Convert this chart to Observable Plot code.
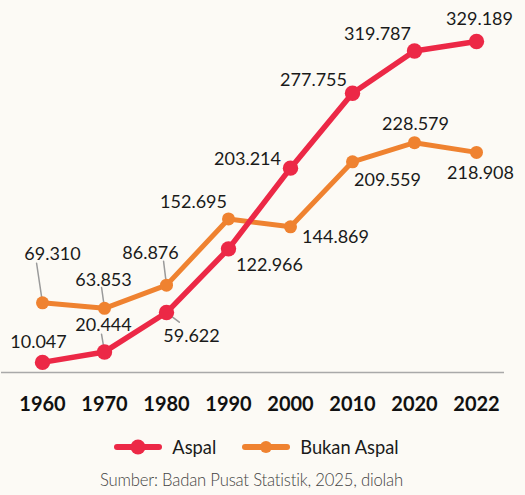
<!DOCTYPE html>
<html>
<head>
<meta charset="utf-8">
<script src="https://cdn.jsdelivr.net/npm/d3@7"></script>
<script src="https://cdn.jsdelivr.net/npm/@observablehq/plot@0.6"></script>
<style>
  html, body { margin: 0; padding: 0; background: #fcfaf5; }
  body { width: 525px; height: 495px; font-family: Lato, "Noto Sans", sans-serif; overflow: hidden; }
  #legend { display: flex; justify-content: center; align-items: center; height: 30px; margin-top: 7px; font-size: 18.3px; color: #1a1a1a; padding-left: 14px; }
  #legend .item { display: flex; align-items: center; margin: 0 26px 0 0; }
  #legend svg { margin-right: 10px; }
  #caption { text-align: center; font-size: 16.7px; font-weight: 300; color: #444; margin-top: 8px; letter-spacing: -0.2px; padding-right: 22px; }
</style>
</head>
<body>
<div id="chart"></div>
<div id="legend"></div>
<div id="caption"></div>
<script>
const years = ["1960", "1970", "1980", "1990", "2000", "2010", "2020", "2022"];
const aspal = [10047, 20444, 59622, 122966, 203214, 277755, 319787, 329189];
const bukanAspal = [69310, 63853, 86876, 152695, 144869, 209559, 228579, 218908];
const seriesNames = ["Aspal", "Bukan Aspal"];
const seriesColors = ["#ec2846", "#ef8230"];
const captionText = "Sumber: Badan Pusat Statistik, 2025, diolah";

// label offsets (pixels) relative to each point
const aspalLabelOffsets = [[-4, -20], [-1, -27], [25, 24], [41, 16], [-43, -9], [-39, -13], [-37, -17], [3, -22]];
const bukanLabelOffsets = [[10, -49], [-1, -28], [-16, -32], [-35, -17], [45, 10], [35, 18], [1, -18], [4, 21]];
// leader lines: [series index, year index, angle deg, length px]
const leaders = [[0, 1, -9.5, 18], [0, 2, 127, 16], [1, 0, -8.5, 40], [1, 1, -8, 21], [1, 2, -7, 24]];

const fmt = d3.formatLocale({decimal: ",", thousands: ".", grouping: [3]}).format(",d");

const rows = [];
years.forEach((y, i) => {
  rows.push({year: y, value: aspal[i], series: seriesNames[0]});
  rows.push({year: y, value: bukanAspal[i], series: seriesNames[1]});
});
const aspalRows = rows.filter(d => d.series === seriesNames[0]);
const bukanRows = rows.filter(d => d.series === seriesNames[1]);
const leaderRows = leaders.map(([s, i, a, l]) => ({year: years[i], value: s === 0 ? aspal[i] : bukanAspal[i], angle: a, len: l}));

const labelMarks = [];
aspalRows.forEach((d, i) => {
  labelMarks.push(Plot.text([d], {x: "year", y: "value", text: d => fmt(d.value), dx: aspalLabelOffsets[i][0], dy: aspalLabelOffsets[i][1], fontSize: 18, fill: "#1a1a1a"}));
});
bukanRows.forEach((d, i) => {
  labelMarks.push(Plot.text([d], {x: "year", y: "value", text: d => fmt(d.value), dx: bukanLabelOffsets[i][0], dy: bukanLabelOffsets[i][1], fontSize: 18, fill: "#1a1a1a"}));
});

const chart = Plot.plot({
  width: 525,
  height: 425,
  marginTop: 41,
  marginBottom: 53,
  marginLeft: 41,
  marginRight: 48,
  style: {fontFamily: "Lato, 'Noto Sans', sans-serif", background: "transparent", overflow: "visible"},
  x: {type: "point", domain: years, padding: 0},
  y: {domain: [0, 329189], axis: null},
  length: {type: "identity"},
  marks: [
    Plot.ruleY([0], {stroke: "#a9a9a9", strokeWidth: 1.5, insetLeft: -40, insetRight: -27}),
    Plot.vector(leaderRows, {x: "year", y: "value", rotate: "angle", length: "len", anchor: "start", stroke: "#9a9a9a", strokeWidth: 1.5,
      shape: {draw(context, l) { context.moveTo(0, 0); context.lineTo(0, -l); }}}),
    Plot.line(bukanRows, {x: "year", y: "value", stroke: seriesColors[1], strokeWidth: 5}),
    Plot.dot(bukanRows, {x: "year", y: "value", r: 6.5, fill: seriesColors[1]}),
    Plot.line(aspalRows, {x: "year", y: "value", stroke: seriesColors[0], strokeWidth: 5.5}),
    Plot.dot(aspalRows, {x: "year", y: "value", r: 7.7, fill: seriesColors[0]}),
    ...labelMarks,
    Plot.axisX({tickSize: 0, tickPadding: 24, fontSize: 20, fontWeight: "bold", fill: "#111", label: null})
  ]
});
document.getElementById("chart").appendChild(chart);

const legend = document.getElementById("legend");
seriesNames.forEach((name, i) => {
  const item = document.createElement("div");
  item.className = "item";
  const r = i === 0 ? 7.5 : 6;
  item.innerHTML = `<svg width="48" height="18"><line x1="3" x2="45" y1="9" y2="9" stroke="${seriesColors[i]}" stroke-width="6" stroke-linecap="round"/><circle cx="24" cy="9" r="${r}" fill="${seriesColors[i]}"/></svg><span>${name}</span>`;
  legend.appendChild(item);
});
document.getElementById("caption").textContent = captionText;
</script>
</body>
</html>
